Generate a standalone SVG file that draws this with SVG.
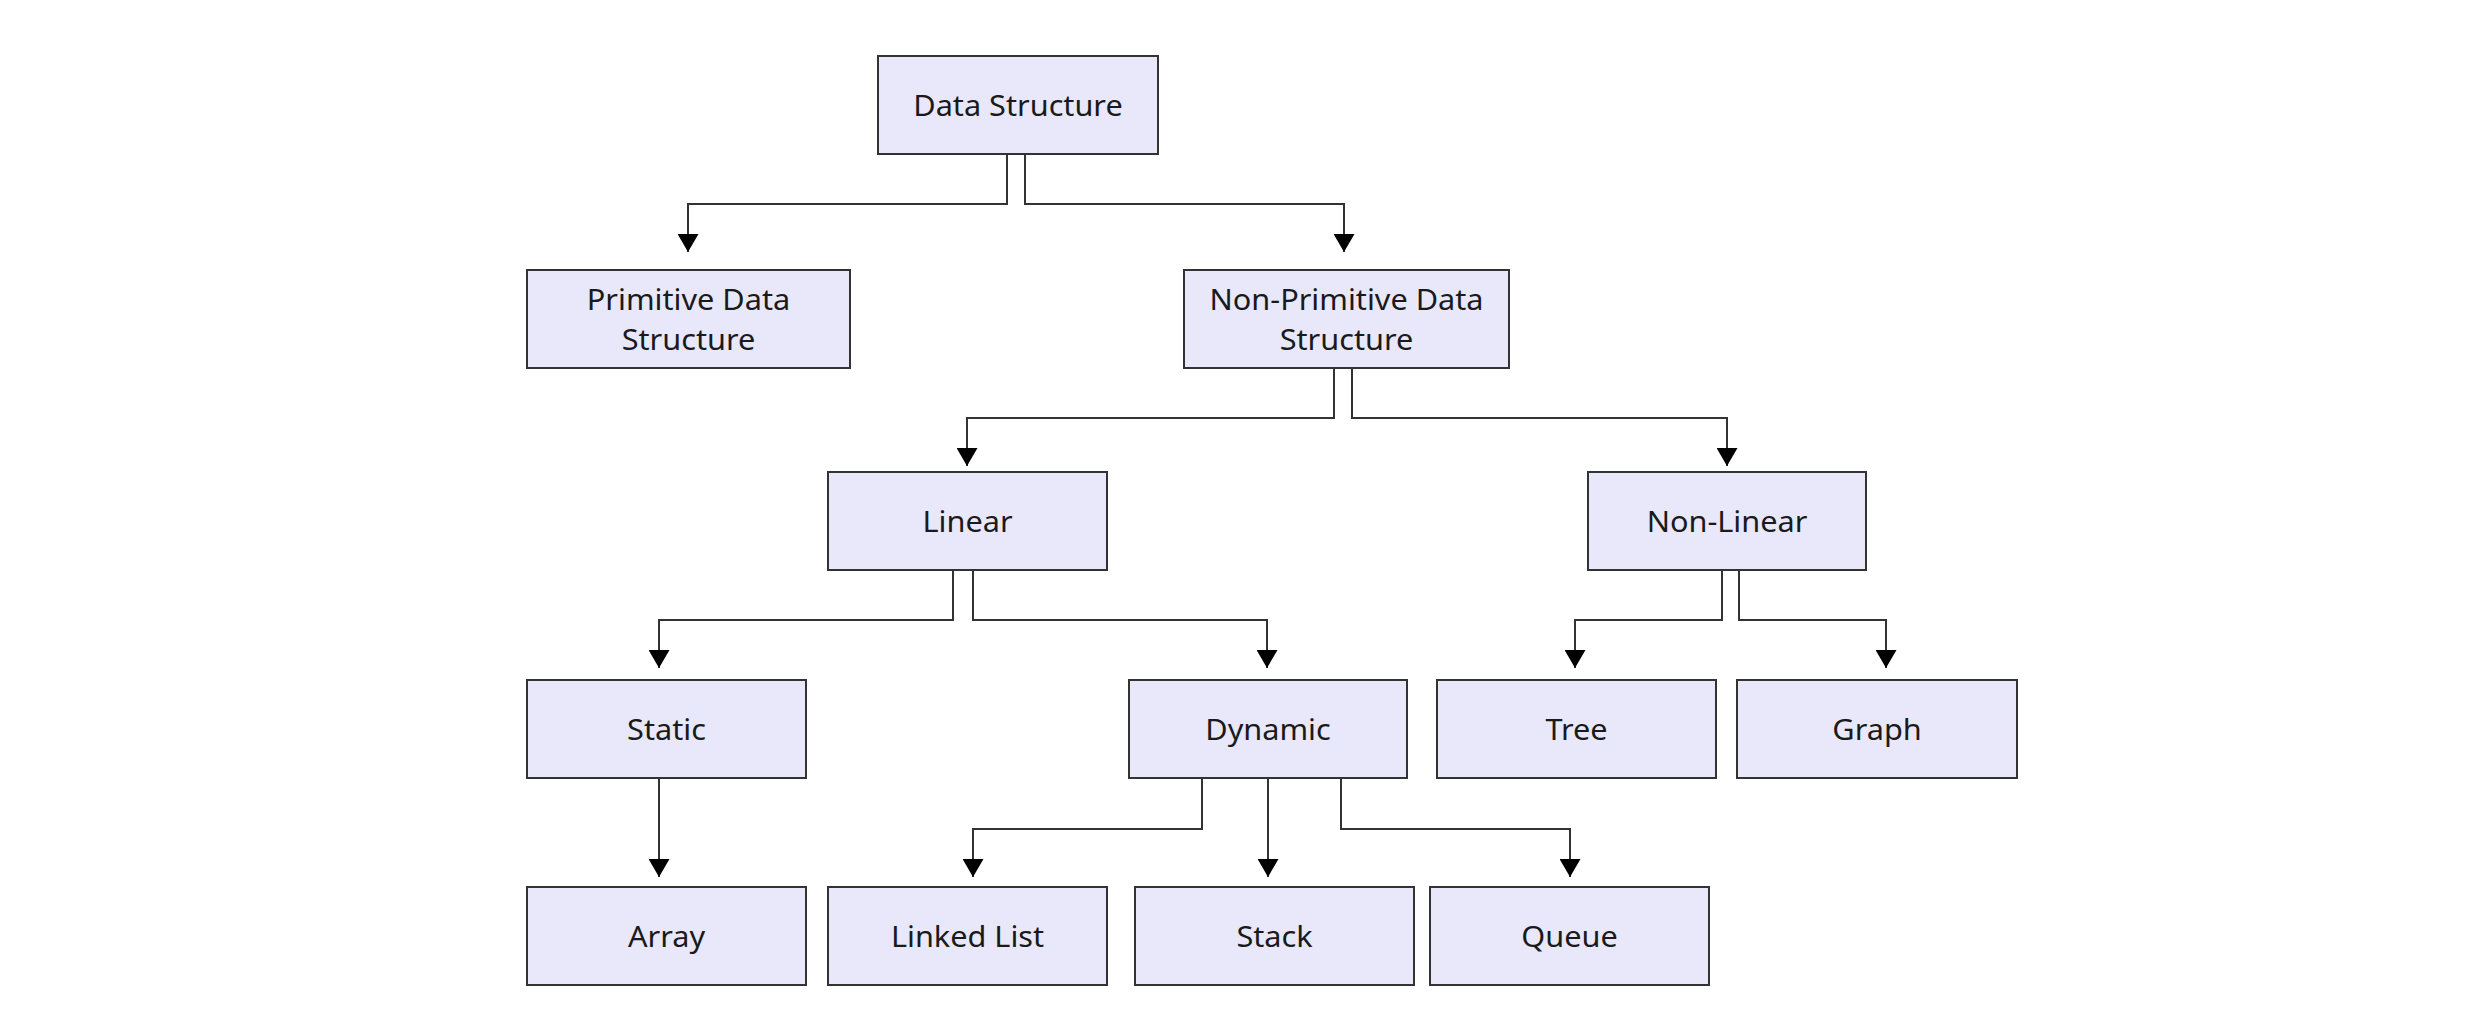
<svg xmlns="http://www.w3.org/2000/svg" width="2470" height="1024" viewBox="0 0 2470 1024">
<style>
.node rect{fill:#E8E8FA;stroke:#333;stroke-width:2}
.node text{font-family:"Noto Sans","Open Sans","DejaVu Sans",sans-serif;font-size:29.5px;fill:#1a1a1a;text-anchor:middle}
.edges path{fill:none;stroke:#333;stroke-width:2}
</style>
<defs>
<marker id="arr" viewBox="0 0 18 21" refX="18" refY="10.5" markerWidth="18" markerHeight="21" markerUnits="userSpaceOnUse" orient="auto">
<path d="M0,0 L18,10.5 L0,21 z" fill="#000"/>
</marker>
</defs>
<rect width="2470" height="1024" fill="#fff"/>
<g class="edges">
<path d="M1007,154 V204 H688 V252" marker-end="url(#arr)"/>
<path d="M1025,154 V204 H1344 V252" marker-end="url(#arr)"/>
<path d="M1334,368 V418 H967 V466" marker-end="url(#arr)"/>
<path d="M1352,368 V418 H1727 V466" marker-end="url(#arr)"/>
<path d="M953,570 V620 H659 V668" marker-end="url(#arr)"/>
<path d="M973,570 V620 H1267 V668" marker-end="url(#arr)"/>
<path d="M1722,570 V620 H1575 V668" marker-end="url(#arr)"/>
<path d="M1739,570 V620 H1886 V668" marker-end="url(#arr)"/>
<path d="M659,778 V877" marker-end="url(#arr)"/>
<path d="M1202,778 V829 H973 V877" marker-end="url(#arr)"/>
<path d="M1268,778 V877" marker-end="url(#arr)"/>
<path d="M1341,778 V829 H1570 V877" marker-end="url(#arr)"/>
</g>
<g id="n-ds" class="node"><rect x="878" y="56" width="280" height="98"/><text transform="translate(1018,115.5) scale(1.04,1)">Data Structure</text></g>
<g id="n-prim" class="node"><rect x="527" y="270" width="323" height="98"/><text transform="translate(688.5,310) scale(1.04,1)">Primitive Data</text><text transform="translate(688.5,350) scale(1.04,1)">Structure</text></g>
<g id="n-nonprim" class="node"><rect x="1184" y="270" width="325" height="98"/><text transform="translate(1346.5,310) scale(1.04,1)">Non-Primitive Data</text><text transform="translate(1346.5,350) scale(1.04,1)">Structure</text></g>
<g id="n-linear" class="node"><rect x="828" y="472" width="279" height="98"/><text transform="translate(967.5,531.5) scale(1.04,1)">Linear</text></g>
<g id="n-nonlinear" class="node"><rect x="1588" y="472" width="278" height="98"/><text transform="translate(1727,531.5) scale(1.04,1)">Non-Linear</text></g>
<g id="n-static" class="node"><rect x="527" y="680" width="279" height="98"/><text transform="translate(666.5,739.5) scale(1.04,1)">Static</text></g>
<g id="n-dynamic" class="node"><rect x="1129" y="680" width="278" height="98"/><text transform="translate(1268,739.5) scale(1.04,1)">Dynamic</text></g>
<g id="n-tree" class="node"><rect x="1437" y="680" width="279" height="98"/><text transform="translate(1576.5,739.5) scale(1.04,1)">Tree</text></g>
<g id="n-graph" class="node"><rect x="1737" y="680" width="280" height="98"/><text transform="translate(1877,739.5) scale(1.04,1)">Graph</text></g>
<g id="n-array" class="node"><rect x="527" y="887" width="279" height="98"/><text transform="translate(666.5,946.5) scale(1.04,1)">Array</text></g>
<g id="n-linkedlist" class="node"><rect x="828" y="887" width="279" height="98"/><text transform="translate(967.5,946.5) scale(1.04,1)">Linked List</text></g>
<g id="n-stack" class="node"><rect x="1135" y="887" width="279" height="98"/><text transform="translate(1274.5,946.5) scale(1.04,1)">Stack</text></g>
<g id="n-queue" class="node"><rect x="1430" y="887" width="279" height="98"/><text transform="translate(1569.5,946.5) scale(1.04,1)">Queue</text></g>
</svg>
